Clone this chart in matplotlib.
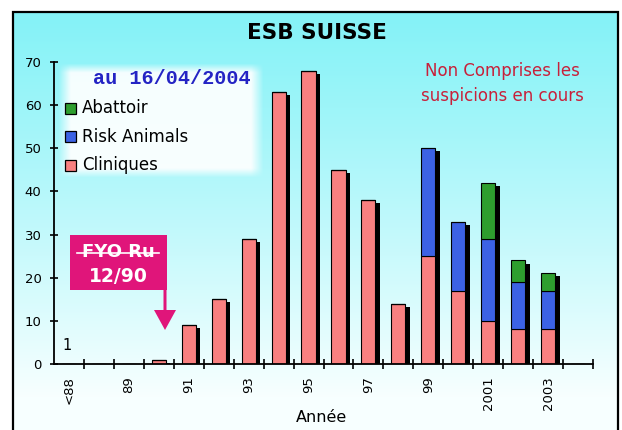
import numpy as np
import matplotlib
matplotlib.use("Agg")
import matplotlib.pyplot as plt
from matplotlib.patches import Rectangle, FancyArrow
from matplotlib import patheffects as pe

# ---- data ----
categories = ['<88', '88', '89', '90', '91', '92', '93', '94', '95', '96',
              '97', '98', '99', '2000', '2001', '2002', '2003', '2004']
cliniques = [0, 0, 0, 1, 9, 15, 29, 63, 68, 45, 38, 14, 25, 17, 10, 8, 8, 0]
risk_animals = [0, 0, 0, 0, 0, 0, 0, 0, 0, 0, 0, 0, 25, 16, 19, 11, 9, 0]
abattoir = [0, 0, 0, 0, 0, 0, 0, 0, 0, 0, 0, 0, 0, 0, 13, 5, 4, 0]
tick_labels = ['<88', '89', '91', '93', '95', '97', '99', '2001', '2003']
series_names = ['Abattoir', 'Risk Animals', 'Cliniques']
y_ticks = [0, 10, 20, 30, 40, 50, 60, 70]

PINK = '#F88080'
BLUE = '#3C62E4'
GREEN = '#2E9E2E'
series_colors = [GREEN, BLUE, PINK]

W, H = 622, 430
fig = plt.figure(figsize=(W / 100, H / 100), dpi=100)
fig.patch.set_facecolor('white')

# ---- background gradient (inside frame) ----
bg = fig.add_axes([0, 0, 1, 1], zorder=-2)
n = 256
t = np.linspace(0, 1, n)[:, None]
top = np.array([0.52, 0.95, 0.97])
bot = np.array([0.97, 1.0, 1.0])
f = np.clip(t / 0.92, 0, 1) ** 1.1
grad = top[None, None, :] * (1 - f[..., None]) + bot[None, None, :] * f[..., None]
grad = np.repeat(grad, 4, axis=1)
bg.imshow(grad, extent=(13, 618, H, 12), aspect='auto', interpolation='bilinear')
bg.set_xlim(0, W)
bg.set_ylim(H, 0)
bg.axis('off')

# ---- main axes ----
x0, x1, ytop, ybot = 54, 593, 62, 364
ax = fig.add_axes([x0 / W, (H - ybot) / H, (x1 - x0) / W, (ybot - ytop) / H], zorder=1)
ax.set_facecolor('none')
x = np.arange(len(categories))
cl = np.array(cliniques, float)
ra = np.array(risk_animals, float)
ab = np.array(abattoir, float)
total = cl + ra + ab
bw = 0.47

# shadows
sh = ax.bar(x, total, bw, color='none', edgecolor='none', zorder=1)
for p in sh:
    p.set_path_effects([pe.SimplePatchShadow(offset=(3.2, -2.2), shadow_rgbFace='black', alpha=1.0)])

ax.bar(x, cl, bw, color=PINK, edgecolor='black', linewidth=0.8, zorder=2)
ax.bar(x, ra, bw, bottom=cl, color=BLUE, edgecolor='black', linewidth=0.8, zorder=2)
ax.bar(x, ab, bw, bottom=cl + ra, color=GREEN, edgecolor='black', linewidth=0.8, zorder=2)

ax.set_xlim(-0.5, len(categories) - 0.5)
ax.set_ylim(0, 70)
for s in ['top', 'right']:
    ax.spines[s].set_visible(False)
for s in ['left', 'bottom']:
    ax.spines[s].set_linewidth(1.3)

ax.set_yticks(y_ticks)
ax.tick_params(axis='y', direction='inout', length=6, width=1.2, pad=6, labelsize=9.5)
ax.set_xticks(x[::2])
ax.set_xticklabels(tick_labels, rotation=90, fontsize=9.5)
ax.set_xticks(np.arange(len(categories)) + 0.5, minor=True)
ax.tick_params(axis='x', which='major', length=0, pad=9)
ax.tick_params(axis='x', which='minor', direction='inout', length=7, width=1.2)
ax.text(-0.05, 4.4, '1', fontsize=10.5, ha='center', va='center')

# ---- overlay in pixel coordinates ----
ov = fig.add_axes([0, 0, 1, 1], zorder=3)

# frame
ov.plot([13, 13, 618, 618], [H + 2, 12, 12, H + 2], color='black', lw=1.6,
        solid_joinstyle='miter')

# title
ov.text(317, 33, 'ESB SUISSE', fontsize=15.5, fontweight='bold', ha='center', va='center')

# note
ov.text(502, 71, 'Non Comprises les', fontsize=12, color='#C8203A', ha='center', va='center')
ov.text(502, 96, 'suspicions en cours', fontsize=12, color='#C8203A', ha='center', va='center')

# legend box (soft white)
lx0, lx1, ly0, ly1 = 58, 264, 63, 178
gx = np.linspace(0, 1, 200)
gy = np.linspace(0, 1, 120)
ex = np.clip(np.minimum(gx, 1 - gx) / 0.06, 0, 1)
ey = np.clip(np.minimum(gy, 1 - gy) / 0.08, 0, 1)
alpha = 0.92 * np.outer(ey, ex)
img = np.ones((120, 200, 4))
img[..., 3] = alpha
ov.imshow(img, extent=(lx0, lx1, ly1, ly0), aspect='auto', interpolation='bilinear')
ov.text(172, 79, 'au 16/04/2004', fontsize=14.5, fontweight='bold', color='#2424C4',
        family='Liberation Mono', ha='center', va='center')
for i, (name, col) in enumerate(zip(series_names, series_colors)):
    yc = 108 + i * 28.5
    ov.add_patch(Rectangle((65, yc - 5.5), 11, 11, facecolor=col, edgecolor='black', lw=0.9))
    ov.text(82, yc, name, fontsize=12, ha='left', va='center')

# first case annotation
ov.add_patch(Rectangle((70, 235), 97, 55, facecolor='#E0157A', edgecolor='none'))
ov.text(118, 252, 'FYO Ru', fontsize=13, fontweight='bold', color='white', ha='center', va='center')
ov.plot([77, 159], [253, 253], color='white', lw=1.2)
ov.text(118, 276, '12/90', fontsize=13.5, fontweight='bold', color='white', ha='center', va='center')
ov.add_patch(FancyArrow(165, 288, 0, 42, width=3, head_width=22, head_length=20,
                        length_includes_head=True, color='#E0157A', lw=0))

# x label
ov.text(321, 418, 'Année', fontsize=11.5, ha='center', va='center')

ov.set_xlim(0, W)
ov.set_ylim(H, 0)
ov.axis('off')

fig.savefig('out.png', dpi=100)
